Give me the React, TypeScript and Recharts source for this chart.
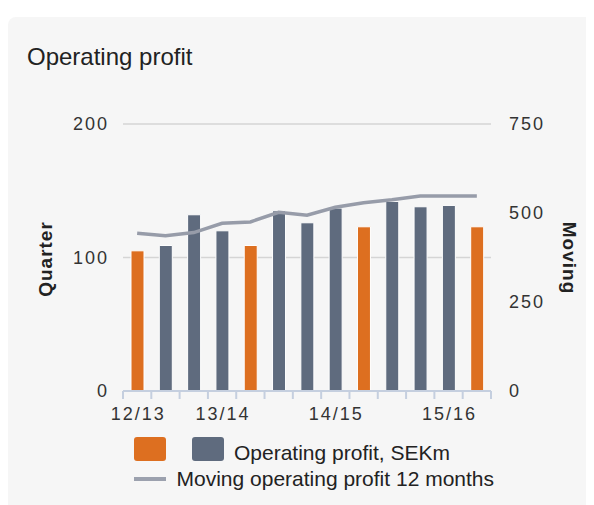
import React from 'react'
import { ComposedChart, Bar, Line, XAxis, YAxis, CartesianGrid, Cell } from 'recharts'

// quarters, oldest first
const categories = ['12/13 Q4', '13/14 Q1', '13/14 Q2', '13/14 Q3', '13/14 Q4', '14/15 Q1', '14/15 Q2', '14/15 Q3', '14/15 Q4', '15/16 Q1', '15/16 Q2', '15/16 Q3', '15/16 Q4']
const tickLabels = ['12/13', '', '', '13/14', '', '', '', '14/15', '', '', '', '15/16', '']
const highlighted = [true, false, false, false, true, false, false, false, true, false, false, false, true]
const quarterProfit = [105, 109, 132, 120, 109, 135, 126, 137, 123, 142, 138, 139, 123]
const movingProfit = [443, 436, 445, 471, 475, 502, 494, 516, 529, 537, 548, 548, 548]
const leftTicks = [0, 100, 200]
const rightTicks = [0, 250, 500, 750]

const ORANGE = '#dd6f20'
const SLATE = '#5f6b7e'
const LINE = '#979ca9'
const AXIS = '#c5cfdf'
const TEXT = '#222'
const FONT = '"Liberation Sans", Arial, sans-serif'

const PLOT_W = 368
const BAND = PLOT_W / categories.length

const data = categories.map((name, i) => ({
  name,
  quarter: quarterProfit[i],
  moving: movingProfit[i],
}))

function QuarterTick(props: any) {
  const { x, y, index } = props
  const left = x - BAND / 2
  const right = x + BAND / 2
  return (
    <g>
      <line x1={left} x2={left} y1={y} y2={y + 8} stroke={AXIS} strokeWidth={2} />
      {index === categories.length - 1 && <line x1={right} x2={right} y1={y} y2={y + 8} stroke={AXIS} strokeWidth={2} />}
      <text x={x + 1} y={y + 29} textAnchor="middle" fill="#333" fontSize={18} letterSpacing={2} fontFamily={FONT}>
        {tickLabels[index]}
      </text>
    </g>
  )
}

const tickStyle = { fill: '#333', fontSize: 18, letterSpacing: 2, fontFamily: FONT }

const axisTitle = {
  position: 'absolute' as const,
  fontSize: 19,
  fontWeight: 'bold' as const,
  letterSpacing: 1,
  whiteSpace: 'nowrap' as const,
}

export default function App() {
  return (
    <div style={{ paddingTop: 9 }}>
      <div
        style={{
          position: 'relative',
          width: 586,
          height: 488,
          background: '#f6f6f6',
          borderRadius: '8px 8px 0 0',
          overflow: 'hidden',
          fontFamily: FONT,
          color: TEXT,
        }}
      >
        <div style={{ position: 'absolute', left: 19, top: 28, fontSize: 24, lineHeight: '24px', whiteSpace: 'nowrap' }}>Operating profit</div>

        <div style={{ position: 'absolute', left: 0, top: 0 }}>
          <ComposedChart width={586} height={410} data={data} margin={{ top: 107, right: 43, left: 55, bottom: 6 }}>
            <CartesianGrid yAxisId="left" vertical={false} stroke="#d5d5d5" strokeWidth={1.5} />
            <XAxis
              dataKey="name"
              interval={0}
              height={30}
              axisLine={{ stroke: AXIS, strokeWidth: 2 }}
              tickLine={false}
              tickSize={0}
              tickMargin={0}
              tick={<QuarterTick />}
            />
            <YAxis
              yAxisId="left"
              orientation="left"
              width={60}
              domain={[0, 200]}
              ticks={leftTicks}
              axisLine={false}
              tickLine={false}
              tickMargin={8}
              tick={tickStyle}
            />
            <YAxis
              yAxisId="right"
              orientation="right"
              width={60}
              domain={[0, 750]}
              ticks={rightTicks}
              axisLine={false}
              tickLine={false}
              tickMargin={12}
              tick={tickStyle}
            />
            <Bar yAxisId="left" dataKey="quarter" barSize={13} stroke="#fff" strokeWidth={1} isAnimationActive={false}>
              {data.map((d, i) => (
                <Cell key={d.name} fill={highlighted[i] ? ORANGE : SLATE} />
              ))}
            </Bar>
            <Line yAxisId="right" type="linear" dataKey="moving" stroke={LINE} strokeWidth={3.5} dot={false} isAnimationActive={false} />
          </ComposedChart>
        </div>

        <div style={{ ...axisTitle, left: 37.5, top: 242, transform: 'translate(-50%, -50%) rotate(-90deg)' }}>Quarter</div>
        <div style={{ ...axisTitle, left: 561, top: 240.5, transform: 'translate(-50%, -50%) rotate(90deg)' }}>Moving</div>

        {/* legend */}
        <div style={{ position: 'absolute', left: 126, top: 420, width: 32, height: 24, background: ORANGE, borderRadius: 3 }} />
        <div style={{ position: 'absolute', left: 184, top: 420, width: 32, height: 24, background: SLATE, borderRadius: 3 }} />
        <div style={{ position: 'absolute', left: 226, top: 425, fontSize: 21, lineHeight: '21px', whiteSpace: 'nowrap' }}>Operating profit, SEKm</div>
        <div style={{ position: 'absolute', left: 126, top: 460, width: 32, height: 4, background: '#9ca1ae' }} />
        <div style={{ position: 'absolute', left: 168.5, top: 451, fontSize: 21, lineHeight: '21px', whiteSpace: 'nowrap' }}>
          Moving operating profit 12 months
        </div>
      </div>
    </div>
  )
}
